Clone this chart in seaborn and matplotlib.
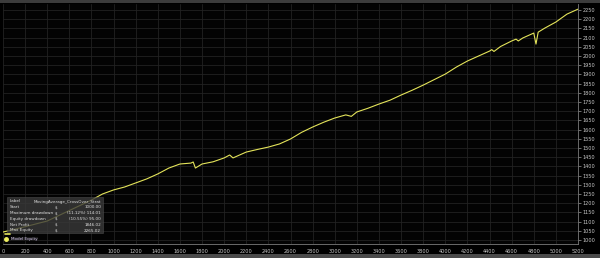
import matplotlib
matplotlib.use("Agg")
import matplotlib.pyplot as plt
import matplotlib.patches as mpatches
import seaborn as sns
import pandas as pd

# ---- data ----
trade_no = [0, 200, 400, 600, 800, 900, 1000, 1100, 1200, 1300, 1400, 1500, 1600, 1700, 1720,
            1740, 1800, 1900, 2000, 2050, 2080, 2200, 2300, 2400, 2500, 2600, 2700, 2800,
            2900, 3000, 3100, 3150, 3200, 3300, 3400, 3500, 3600, 3700, 3800, 3900, 4000,
            4100, 4200, 4300, 4400, 4420, 4440, 4500, 4600, 4640, 4660, 4700, 4800, 4820,
            4840, 4900, 5000, 5100, 5200]
equity = [1043, 1072, 1103, 1160, 1217, 1250, 1272, 1288, 1310, 1332, 1359, 1391, 1413, 1418,
          1424, 1391, 1413, 1425, 1446, 1462, 1446, 1478, 1492, 1505, 1522, 1549, 1585, 1614,
          1640, 1663, 1680, 1672, 1696, 1716, 1739, 1760, 1788, 1814, 1842, 1872, 1902,
          1940, 1973, 2000, 2027, 2035, 2025, 2052, 2082, 2092, 2082, 2098, 2125, 2065,
          2130, 2152, 2185, 2228, 2255]

y_ticks = list(range(1000, 2251, 50))
x_ticks = list(range(0, 5201, 200))

table_labels = ["Label", "Start", "Maximum drawdown", "Equity drawdown", "Net Profit", "Max Equity"]
table_units = ["", "$", "$", "$", "$", "$"]
table_values = ["MovingAverage_CrossOver_Strat", "1000.00", "(11.12%) 114.01", "(10.55%) 95.00",
                "1846.02", "2265.02"]
series_name = "Model Equity"

df = pd.DataFrame({"trade": trade_no, "equity": equity})

sns.set_theme(style="dark")
plt.rcParams["font.family"] = ["DejaVu Sans"]

W, H = 600, 258
fig = plt.figure(figsize=(W / 100, H / 100), dpi=100, facecolor="#000000")
ax = fig.add_axes([3 / W, 14 / H, 575 / W, 240 / H])
ax.set_facecolor("#030303")

sns.lineplot(data=df, x="trade", y="equity", ax=ax, color="#e4e45a", linewidth=0.8,
             legend=False)

ax.set_xlim(0, 5200)
ax.set_ylim(978, 2283)
ax.set_xticks(x_ticks)
ax.set_xticklabels([str(t) for t in x_ticks])
ax.set_yticks(y_ticks)
ax.set_yticklabels([str(t) for t in y_ticks])
ax.yaxis.tick_right()
ax.tick_params(axis="both", colors="#9a9a9a", labelsize=3.6, length=2, width=0.5,
               pad=1.5, labelcolor="#c8c8c8")
ax.grid(True, color="#222222", linewidth=0.6)
ax.set_xlabel("")
ax.set_ylabel("")
for side in ["top", "left"]:
    ax.spines[side].set_visible(False)
ax.spines["bottom"].set_color("#7a7a7a")
ax.spines["bottom"].set_linewidth(0.6)
ax.spines["right"].set_color("#7a7a7a")
ax.spines["right"].set_linewidth(0.6)

# top and bottom bars
fig.patches.append(mpatches.Rectangle((0, 1 - 3 / H), 1, 3 / H, transform=fig.transFigure,
                                      facecolor="#3c3c3c", edgecolor="none", zorder=5))
fig.patches.append(mpatches.Rectangle((0, 0), 1, 4 / H, transform=fig.transFigure,
                                      facecolor="#4a4a4a", edgecolor="none", zorder=5))

# info box
bx0, by0, bx1, by1 = 7, 197, 103, 233
fig.patches.append(mpatches.Rectangle((bx0 / W, 1 - by1 / H), (bx1 - bx0) / W, (by1 - by0) / H,
                                      transform=fig.transFigure, facecolor="#3a3a3a",
                                      edgecolor="#555555", linewidth=0.4, alpha=0.8, zorder=6))
row_y0 = 201.5
for i, (lab, unit, val) in enumerate(zip(table_labels, table_units, table_values)):
    yy = 1 - (row_y0 + i * 5.8) / H
    fig.text(10 / W, yy, lab, fontsize=3.0, color="#e0e0e0", va="center", ha="left", zorder=7)
    fig.text(55 / W, yy, unit, fontsize=3.0, color="#e0e0e0", va="center", ha="left", zorder=7)
    fig.text(101 / W, yy, val, fontsize=3.0, color="#e0e0e0", va="center", ha="right", zorder=7)

# legend entries
fig.lines.append(plt.Line2D([5 / W, 10 / W], [1 - 234 / H, 1 - 234 / H], transform=fig.transFigure,
                            color="#e4e45a", linewidth=1.2, zorder=7))
fig.lines.append(plt.Line2D([6 / W], [1 - 239 / H], transform=fig.transFigure, marker="o",
                            markersize=2.5, color="#f0f060", zorder=7))
fig.text(11 / W, 1 - 239 / H, series_name, fontsize=3.0, color="#d8c8f0", va="center",
         ha="left", zorder=7,
         bbox=dict(facecolor="#1a1a1a", edgecolor="none", pad=0.3))

fig.savefig("out.png", dpi=100, facecolor=fig.get_facecolor())
